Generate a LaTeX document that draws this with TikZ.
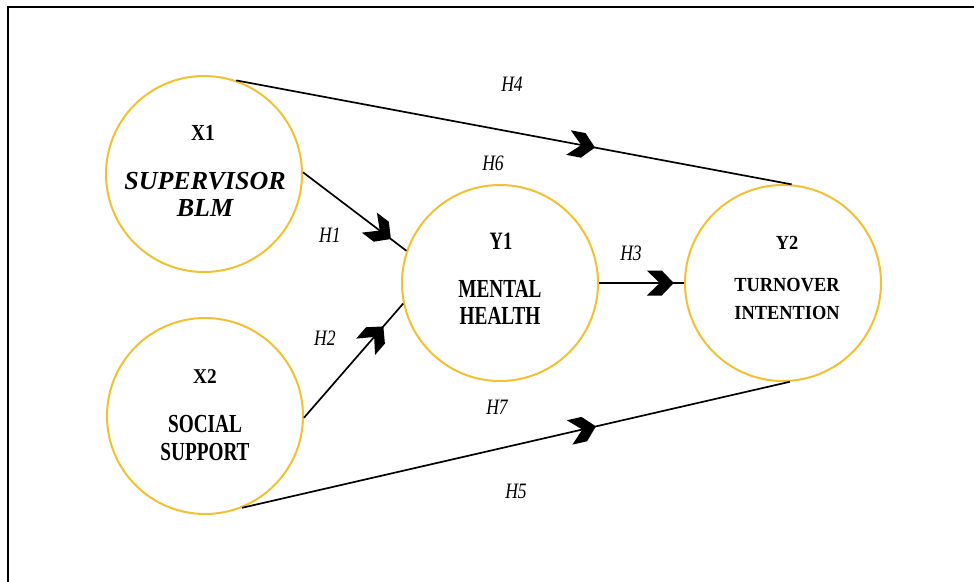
\documentclass[tikz,border=0pt]{standalone}
\usepackage{fontspec}
\setmainfont{Liberation Serif}
\newfontfamily\cnA{Liberation Serif}[FakeStretch=0.74]
\newfontfamily\cnB{Liberation Serif}[FakeStretch=0.84]
\newfontfamily\cnC{Liberation Serif}[FakeStretch=0.92]
\newfontfamily\cnH{Liberation Serif}[FakeStretch=0.8]
\usetikzlibrary{decorations.markings}
\definecolor{ring}{RGB}{242,192,50}
\tikzset{
  lv/.style={circle, draw=ring, line width=2pt, minimum size=196pt, inner sep=0pt},
  txt/.style={inner sep=0pt, align=center},
  hl/.style={font=\cnH\fontsize{22}{22}\selectfont\itshape, inner sep=0pt},
  link/.style={draw, line width=1.7pt},
  chev/.style={postaction={decorate}, decoration={markings, mark=at position #1 with {\fill[black] (0pt,0pt) -- (-12pt,12.5pt) -- (-27pt,12.5pt) -- (-14pt,0pt) -- (-27pt,-12.5pt) -- (-12pt,-12.5pt) -- cycle;}}}
}
\begin{document}
\begin{tikzpicture}[x=1pt,y=-1pt]
\useasboundingbox (0,0) rectangle (974,581);
\draw[line width=2pt] (8,600) -- (8,7) -- (990,7);

\node[lv] (X1) at (204,174) {};
\node[lv] (X2) at (205,416) {};
\node[lv] (Y1) at (500,283) {};
\node[lv] (Y2) at (783,283) {};

\node[txt, font=\cnB\fontsize{23}{23}\selectfont\bfseries] (tX1) at (203,133) {X1};
\node[txt, font=\fontsize{26}{27}\selectfont\bfseries\itshape] (nX1) at (205,194) {SUPERVISOR\\BLM};
\node[txt, font=\cnC\fontsize{21}{21}\selectfont\bfseries] (tX2) at (205,377) {X2};
\node[txt, font=\cnA\fontsize{26}{28}\selectfont\bfseries] (nX2) at (205,438) {SOCIAL\\SUPPORT};
\node[txt, font=\cnA\fontsize{25}{25}\selectfont\bfseries] (tY1) at (501,241) {Y1};
\node[txt, font=\cnA\fontsize{26}{27}\selectfont\bfseries] (nY1) at (500,302) {MENTAL\\HEALTH};
\node[txt, font=\cnC\fontsize{20}{20}\selectfont\bfseries] (tY2) at (787,243) {Y2};
\node[txt, font=\cnC\fontsize{20}{28}\selectfont\bfseries] (nY2) at (787,299) {TURNOVER\\INTENTION};

\draw[link, chev=0.646] (X1.71) -- (Y2.85);
\draw[link, chev=0.85] (X1.1) -- (Y1.161);
\draw[link, chev=0.8] (X2.-1) -- (Y1.192);
\draw[link, chev=0.88] (Y1.east) -- (Y2.west);
\draw[link, chev=0.646] (X2.-68) -- (Y2.-86);

\node[hl] (h4) at (512,84) {H4};
\node[hl] (h6) at (493,163) {H6};
\node[hl] (h1) at (330,235) {H1};
\node[hl] (h2) at (325,338) {H2};
\node[hl] (h3) at (631,253) {H3};
\node[hl] (h7) at (497,407) {H7};
\node[hl] (h5) at (516,491) {H5};
\end{tikzpicture}
\end{document}
